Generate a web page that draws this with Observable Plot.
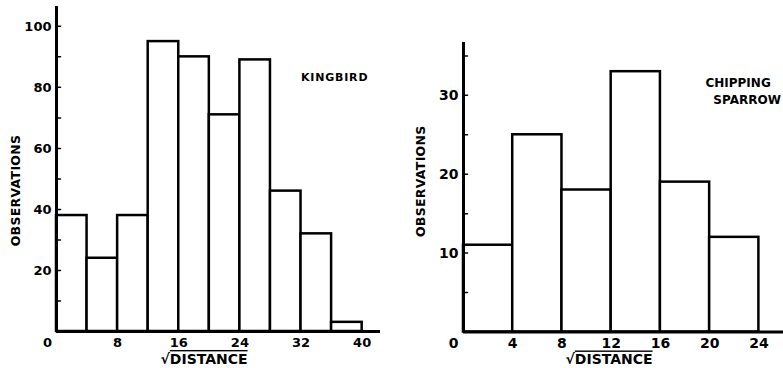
<!DOCTYPE html>
<html><head><meta charset="utf-8">
<script src="https://cdn.jsdelivr.net/npm/d3@7"></script>
<script src="https://cdn.jsdelivr.net/npm/@observablehq/plot@0.6"></script>
<style>
body{margin:0;background:#fff}
#wrap{display:flex;width:783px;height:368px;overflow:hidden}
</style>
</head><body><div id="wrap"></div>
<script>
// ---- data ----
const binWidth = 4;
const kingbirdBinStarts = [0, 4, 8, 12, 16, 20, 24, 28, 32, 36];
const kingbirdCounts    = [38, 24, 38, 95, 90, 71, 89, 46, 32, 3];
const sparrowBinStarts  = [0, 4, 8, 12, 16, 20];
const sparrowCounts     = [11, 25, 18, 33, 19, 12];

const kingbirdXTicks = [0, 8, 16, 24, 32, 40];
const kingbirdYTicks = [20, 40, 60, 80, 100];
const kingbirdMinorYTicks = [10, 30, 50, 70, 90];
const sparrowXTicks = [0, 4, 8, 12, 16, 20, 24];
const sparrowYTicks = [10, 20, 30];
const sparrowMinorYTicks = [5, 15, 25, 35];

const yTitle = "OBSERVATIONS";
const xTitle = "√DISTANCE";
const kingbirdLabels = [{x: 36.4, y: 83.3, text: "KINGBIRD"}];
const sparrowLabels  = [{x: 19.66, y: 31.5, text: "CHIPPING"}, {x: 20.3, y: 29.4, text: "SPARROW"}];

const tickLine = {draw(context, l) { context.moveTo(0, 0); context.lineTo(0, -l); }};

function panel(o) {
  const bins = o.starts.map((s, i) => ({x1: s, x2: s + binWidth, y: o.counts[i]}));
  const svg = Plot.plot({
    width: o.width, height: 368,
    marginLeft: o.ml, marginRight: o.mr, marginTop: o.mt, marginBottom: o.mb,
    style: {fontFamily: "'DejaVu Sans', sans-serif", fontWeight: "bold", color: "#000", background: "#fff", overflow: "visible"},
    x: {domain: o.xDomain},
    y: {domain: o.yDomain},
    marks: [
      Plot.rectY(bins, {x1: "x1", x2: "x2", y: "y", fill: "white", stroke: "black", strokeWidth: 2.5}),
      Plot.ruleX([0], {stroke: "black", strokeWidth: 3}),
      Plot.ruleY([0], {stroke: "black", strokeWidth: 3}),
      Plot.vector([...o.yTicks, ...o.minor], {y: d => d, frameAnchor: "left", length: 4, rotate: 90, anchor: "start", shape: tickLine, stroke: "black", strokeWidth: 1.5}),
      Plot.axisY(o.yTicks, {tickSize: 0, tickPadding: 5, fontSize: o.fs, fontWeight: "bold", label: null}),
      Plot.axisX(o.xTicks.filter(t => t !== 0), {tickSize: 0, tickPadding: 6, fontSize: o.fs, fontWeight: "bold", label: null}),
      Plot.axisX([0], {tickSize: 0, tickPadding: 6, dx: o.zeroDx, fontSize: o.fs, fontWeight: "bold", label: null}),
      Plot.text([yTitle], {frameAnchor: "left", textAnchor: "middle", lineAnchor: "middle", rotate: -90, dx: o.yTitleDx, dy: o.yTitleDy, fontSize: 12.5, fontWeight: "bold"}),
      Plot.text([xTitle], {frameAnchor: "bottom", textAnchor: "middle", lineAnchor: "middle", dx: o.xTitleDx, dy: 28, fontSize: 14, fontWeight: "bold"}),
      Plot.text(o.labels, {x: "x", y: "y", text: "text", textAnchor: o.labelAnchor, fontSize: o.labelFs, fontWeight: "bold"})
    ]
  });
  d3.select(svg).selectAll("text").each(function() {
    const t = d3.select(this);
    const s = this.textContent;
    if (s === xTitle) {
      t.text("√");
      t.append("tspan").text("DISTANCE").style("text-decoration", "overline");
    } else if (s === "KINGBIRD") {
      t.style("letter-spacing", "0.8px");
    } else if (s === yTitle) {
      t.style("letter-spacing", "0.3px");
    }
  });
  return svg;
}

const wrap = document.getElementById("wrap");
wrap.appendChild(panel({
  width: 390, ml: 56, mr: 10, mt: 6, mb: 37,
  xDomain: [0, 42.4], yDomain: [0, 106.5],
  starts: kingbirdBinStarts, counts: kingbirdCounts,
  xTicks: kingbirdXTicks, yTicks: kingbirdYTicks, minor: kingbirdMinorYTicks,
  fs: 13, zeroDx: -9, yTitleDx: -41, yTitleDy: 21.5, xTitleDx: -14.5,
  labels: kingbirdLabels, labelAnchor: "middle", labelFs: 11
}));
wrap.appendChild(panel({
  width: 393, ml: 73, mr: 0, mt: 42, mb: 36.5,
  xDomain: [0, 26], yDomain: [0, 36.7],
  starts: sparrowBinStarts, counts: sparrowCounts,
  xTicks: sparrowXTicks, yTicks: sparrowYTicks, minor: sparrowMinorYTicks,
  fs: 14, zeroDx: -10, yTitleDx: -43, yTitleDy: -6, xTitleDx: -14.5,
  labels: sparrowLabels, labelAnchor: "start", labelFs: 12
}));
</script>
</body></html>
